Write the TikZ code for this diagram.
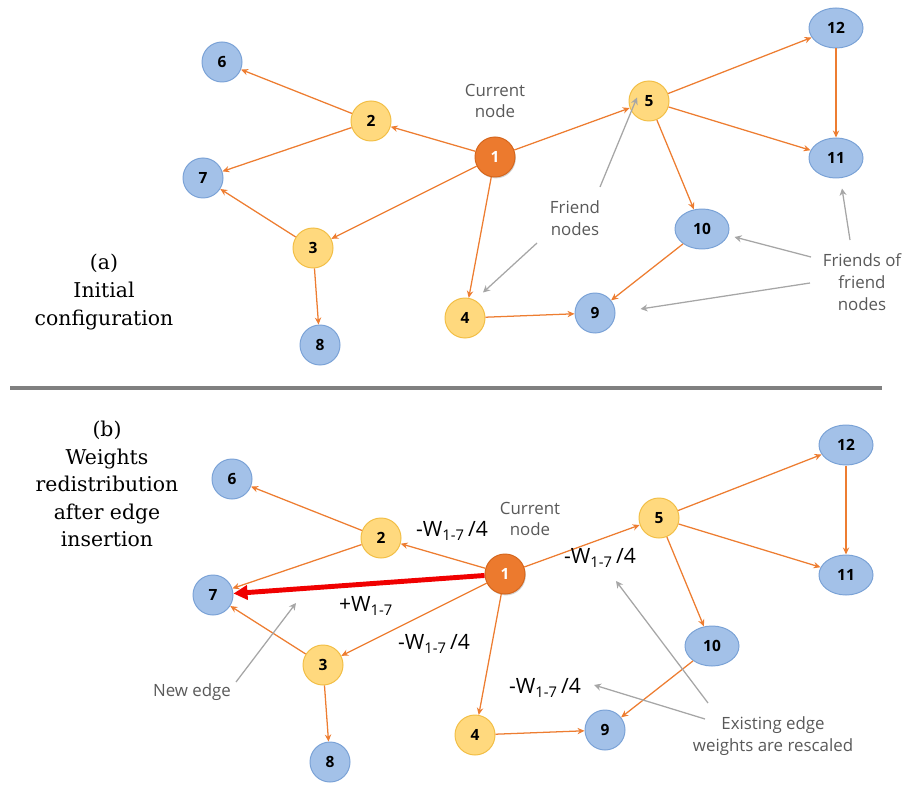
\documentclass[tikz,border=0pt]{standalone}
\usepackage{fontspec}
\setsansfont{Open Sans}
\newfontfamily\capfont{DejaVu Serif}
\usetikzlibrary{shapes.geometric,arrows.meta,shadows}

\definecolor{linkorange}{HTML}{ED7D31}
\definecolor{hubfill}{HTML}{EC7A2E}
\definecolor{hubline}{HTML}{D5661C}
\definecolor{friendfill}{HTML}{FFD97E}
\definecolor{friendline}{HTML}{F2BE45}
\definecolor{farfill}{HTML}{A3C1E8}
\definecolor{farline}{HTML}{7AA2D6}
\definecolor{notegray}{HTML}{A6A6A6}
\definecolor{notetext}{HTML}{595959}
\definecolor{newred}{HTML}{F00000}

\tikzset{
  vtx/.style={circle, minimum size=1cm, inner sep=0pt, line width=0.7pt,
    font=\sffamily\bfseries\fontsize{11}{13}\selectfont},
  hub/.style={vtx, fill=hubfill, draw=hubline, text=white,
    drop shadow={opacity=0.35, shadow xshift=0.6pt, shadow yshift=-1pt}},
  friend/.style={vtx, fill=friendfill, draw=friendline},
  far/.style={vtx, fill=farfill, draw=farline},
  farwide/.style={far, ellipse, minimum width=1.35cm, minimum height=1cm},
  link/.style={draw=linkorange, line width=0.9pt, -{Stealth[length=5pt,width=4.5pt]}},
  newlink/.style={draw=newred, line width=3.5pt, -{Triangle[length=10pt,width=10pt]}},
  note/.style={draw=notegray, line width=0.9pt, -{Stealth[length=5pt,width=5pt]}},
  remark/.style={font=\sffamily\fontsize{12}{15.5}\selectfont, text=notetext, align=center, inner sep=0pt},
  caption/.style={font=\capfont\fontsize{14.5}{19.6}\selectfont, align=center, inner sep=0pt},
  weight/.style={font=\sffamily\fontsize{15}{17}\selectfont, inner sep=0pt}
}

\begin{document}
\begin{tikzpicture}[x=0.025cm, y=-0.025cm]
    \useasboundingbox (0,0) rectangle (906,787);

    % (a) initial configuration
    \begin{scope}
        \node[hub] (a1) at (495,157) {1};
        \node[friend] (a2) at (371,121) {2};
        \node[friend] (a3) at (313,248) {3};
        \node[friend] (a4) at (465,318) {4};
        \node[friend] (a5) at (649,101) {5};
        \node[far] (a6) at (222,62) {6};
        \node[far] (a7) at (203,178) {7};
        \node[far] (a8) at (320,345) {8};
        \node[far] (a9) at (595,313) {9};
        \node[farwide] (a10) at (702,229) {10};
        \node[farwide] (a11) at (836,158) {11};
        \node[farwide] (a12) at (836,28) {12};

        \path (a1) edge[link] (a2) edge[link] (a3) edge[link] (a4) edge[link] (a5);
        \path (a2) edge[link] (a6) edge[link] (a7);
        \path (a3) edge[link] (a7) edge[link] (a8);
        \path (a5) edge[link] (a12) edge[link] (a11) edge[link] (a10);
        \path (a12) edge[link] (a11);
        \path (a10) edge[link] (a9);
        \path (a4) edge[link] (a9);

        \node[remark] (acur) at (495,101) {Current\\node};
        \node[remark] (afriend) at (575,218) {Friend\\nodes};
        \node[remark] (afof) at (862,282) {Friends of\\friend\\nodes};
        \node[caption] (acap) at (104,292) {(a)\\Initial\\configuration};

        \coordinate (fr1) at (600,187);
        \coordinate (fr2) at (537,243);
        \coordinate (ff1) at (850,240);
        \coordinate (ff2) at (811,257);
        \coordinate (ff3) at (810,283);
        \draw[note] (fr1) -- ([shift={(-12,-24)}]a5.south);
        \draw[note] (fr2) -- ([shift={(18,-5)}]a4.north);
        \draw[note] (ff1) -- ([shift={(6,10)}]a11.south);
        \draw[note] (ff2) -- ([shift={(5,8)}]a10.east);
        \draw[note] (ff3) -- ([shift={(25,-4)}]a9.east);
    \end{scope}

    \draw[line width=3pt, gray] (10,388) -- (882,388);

    % (b) after edge insertion
    \begin{scope}[shift={(10,417)}]
        \node[hub] (b1) at (495,157) {1};
        \node[friend] (b2) at (371,121) {2};
        \node[friend] (b3) at (313,248) {3};
        \node[friend] (b4) at (465,318) {4};
        \node[friend] (b5) at (649,101) {5};
        \node[far] (b6) at (222,62) {6};
        \node[far] (b7) at (203,178) {7};
        \node[far] (b8) at (320,345) {8};
        \node[far] (b9) at (595,313) {9};
        \node[farwide] (b10) at (702,229) {10};
        \node[farwide] (b11) at (836,158) {11};
        \node[farwide] (b12) at (836,28) {12};

        \path (b1) edge[link] (b2) edge[link] (b3) edge[link] (b4) edge[link] (b5);
        \path (b2) edge[link] (b6) edge[link] (b7);
        \path (b3) edge[link] (b7) edge[link] (b8);
        \path (b5) edge[link] (b12) edge[link] (b11) edge[link] (b10);
        \path (b12) edge[link] (b11);
        \path (b10) edge[link] (b9);
        \path (b4) edge[link] (b9);
        \draw[newlink] (b1) -- (b7);
    \end{scope}

    \node[remark] (bcur) at (530,519) {Current\\node};
    \node[remark] (bnew) at (192,692) {New edge};
    \node[remark] (bexist) at (773,736) {Existing edge\\weights are rescaled};
    \node[caption] (bcap) at (107,484) {(b)\\Weights\\redistribution\\after edge\\insertion};

    \node[weight] (w12) at (452,531) {-W\textsubscript{1-7}\,/4};
    \node[weight] (w15) at (600,558) {-W\textsubscript{1-7}\,/4};
    \node[weight] (w13) at (434,644) {-W\textsubscript{1-7}\,/4};
    \node[weight] (w49) at (545,688) {-W\textsubscript{1-7}\,/4};
    \node[weight] (w17) at (366,606) {+W\textsubscript{1-7}};

    \coordinate (ne1) at (236,682);
    \coordinate (ne2) at (296,603);
    \coordinate (ex1) at (708,703);
    \coordinate (ex2) at (616,581);
    \coordinate (ex3) at (705,719);
    \coordinate (ex4) at (594,685);
    \draw[note] (ne1) -- (ne2);
    \draw[note] (ex1) -- (ex2);
    \draw[note] (ex3) -- (ex4);
\end{tikzpicture}
\end{document}
